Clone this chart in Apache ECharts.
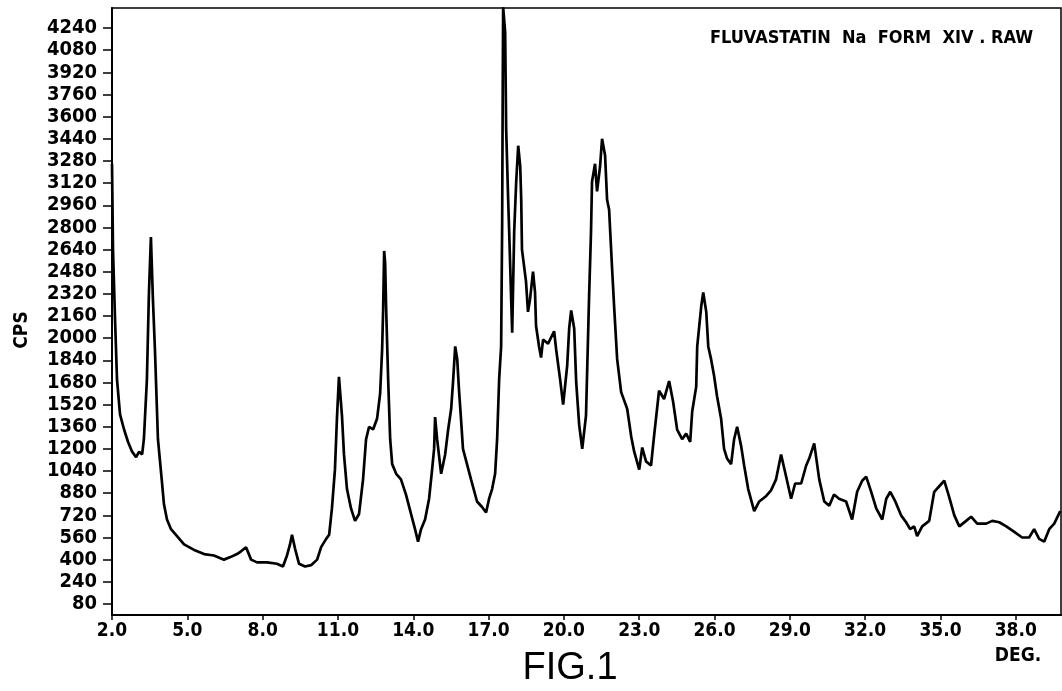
<!DOCTYPE html>
<html lang="en">
<head>
    <meta charset="UTF-8">
    <title>FIG.1</title>
    <script src="https://cdn.jsdelivr.net/npm/echarts@6/dist/echarts.min.js"></script>
    <style>
        html, body { margin: 0; padding: 0; background: #fff; }
        #main { width: 1062px; height: 691px; }
    </style>
</head>
<body>
    <div id="main"></div>

    <script>
        // 2-theta (deg) and intensity (cps)
        var deg = [
            2.00, 2.04, 2.12, 2.20, 2.32, 2.48, 2.64, 2.80, 2.96, 3.08, 3.20, 3.27, 3.39, 3.47, 3.55, 3.63, 3.71, 3.83, 3.99, 4.07,
            4.19, 4.35, 4.59, 4.87, 5.27, 5.67, 6.06, 6.46, 6.74, 6.98, 7.14, 7.34, 7.54, 7.78, 8.18, 8.57, 8.81, 8.97, 9.09, 9.17,
            9.29, 9.45, 9.69, 9.93, 10.17, 10.33, 10.53, 10.65, 10.76, 10.88, 10.96, 11.04, 11.16, 11.24, 11.36, 11.52, 11.68, 11.84, 12.00, 12.12,
            12.24, 12.40, 12.56, 12.68, 12.76, 12.80, 12.84, 12.88, 12.92, 13.00, 13.08, 13.16, 13.32, 13.51, 13.71, 13.91, 14.07, 14.19, 14.31, 14.47,
            14.63, 14.75, 14.83, 14.87, 14.95, 15.11, 15.27, 15.39, 15.51, 15.59, 15.67, 15.75, 15.82, 15.90, 15.98, 16.14, 16.30, 16.54, 16.74, 16.90,
            17.02, 17.14, 17.26, 17.34, 17.42, 17.50, 17.54, 17.56, 17.58, 17.66, 17.70, 17.78, 17.82, 17.90, 17.94, 18.02, 18.10, 18.18, 18.26, 18.30,
            18.33, 18.49, 18.57, 18.65, 18.77, 18.85, 18.89, 19.01, 19.09, 19.17, 19.37, 19.61, 19.69, 19.85, 19.97, 20.13, 20.21, 20.29, 20.41, 20.49,
            20.61, 20.73, 20.88, 21.00, 21.08, 21.12, 21.24, 21.32, 21.44, 21.52, 21.64, 21.72, 21.80, 21.92, 22.00, 22.12, 22.28, 22.52, 22.68, 22.80,
            23.00, 23.12, 23.27, 23.47, 23.59, 23.79, 23.99, 24.19, 24.35, 24.51, 24.71, 24.87, 25.03, 25.11, 25.27, 25.31, 25.47, 25.55, 25.67, 25.75,
            25.86, 25.98, 26.10, 26.26, 26.38, 26.50, 26.66, 26.78, 26.90, 27.06, 27.18, 27.34, 27.58, 27.78, 28.06, 28.25, 28.45, 28.65, 28.85, 29.05,
            29.21, 29.45, 29.65, 29.77, 29.97, 30.17, 30.37, 30.57, 30.76, 30.96, 31.24, 31.48, 31.68, 31.88, 32.04, 32.24, 32.44, 32.68, 32.84, 33.00,
            33.20, 33.43, 33.63, 33.79, 33.95, 34.07, 34.27, 34.55, 34.75, 34.95, 35.15, 35.35, 35.55, 35.75, 36.02, 36.22, 36.46, 36.82, 37.06, 37.34,
            37.62, 37.94, 38.25, 38.53, 38.73, 38.93, 39.13, 39.33, 39.53, 39.77
        ];
        var cps = [
            3260, 2640, 2140, 1700, 1450, 1340, 1250, 1180, 1140, 1180, 1160, 1270, 1700, 2320, 2730, 2280, 1920, 1270, 960, 800,
            690, 620, 570, 510, 470, 440, 430, 400, 420, 440, 460, 490, 400, 380, 380, 370, 350, 430, 510, 580,
            480, 370, 350, 360, 400, 490, 550, 580, 770, 1050, 1420, 1720, 1440, 1160, 910, 770, 680, 730, 980, 1270,
            1360, 1340, 1420, 1600, 1920, 2210, 2630, 2540, 2210, 1700, 1270, 1090, 1020, 980, 870, 730, 620, 530, 620, 690,
            840, 1050, 1200, 1430, 1270, 1020, 1160, 1340, 1490, 1700, 1940, 1850, 1630, 1420, 1200, 1090, 980, 820, 780, 740,
            840, 910, 1020, 1270, 1700, 1940, 2810, 3650, 4390, 4210, 3510, 3000, 2770, 2280, 2040, 2770, 3130, 3390, 3240, 3000,
            2640, 2410, 2190, 2280, 2480, 2330, 2090, 1940, 1860, 1990, 1960, 2050, 1920, 1700, 1520, 1800, 2070, 2200, 2070, 1680,
            1370, 1200, 1440, 2280, 2770, 3130, 3260, 3060, 3240, 3440, 3320, 3000, 2930, 2500, 2230, 1850, 1610, 1490, 1290, 1180,
            1050, 1210, 1110, 1080, 1290, 1620, 1560, 1690, 1540, 1340, 1270, 1310, 1250, 1470, 1650, 1940, 2230, 2330, 2190, 1940,
            1850, 1730, 1580, 1420, 1200, 1130, 1090, 1270, 1360, 1220, 1080, 910, 750, 820, 860, 900, 980, 1160, 1000, 840,
            950, 950, 1080, 1130, 1240, 980, 820, 790, 870, 840, 820, 690, 890, 970, 1000, 890, 770, 690, 840, 890,
            820, 720, 670, 620, 640, 570, 640, 680, 890, 930, 970, 850, 720, 640, 680, 710, 660, 660, 680, 670,
            640, 600, 560, 560, 620, 550, 530, 620, 660, 750
        ];
        var xTicks = [2, 5, 8, 11, 14, 17, 20, 23, 26, 29, 32, 35, 38];
        var yTicks = [80, 240, 400, 560, 720, 880, 1040, 1200, 1360, 1520, 1680, 1840, 2000, 2160, 2320,
            2480, 2640, 2800, 2960, 3120, 3280, 3440, 3600, 3760, 3920, 4080, 4240];

        var points = deg.map(function (d, i) { return [d, cps[i]]; });

        var font = '"DejaVu Sans Condensed", "DejaVu Sans"';
        var chart = echarts.init(document.getElementById('main'));
        var option = {
            animation: false,
            backgroundColor: '#fff',
            grid: {
                left: 112, right: 1, top: 8, bottom: 76,
                show: true, borderColor: '#000', borderWidth: 1.5
            },
            xAxis: {
                type: 'value',
                min: 2, max: 39.8,
                splitLine: { show: false },
                axisLine: { lineStyle: { color: '#000', width: 2 } },
                axisTick: { customValues: xTicks, length: 5, lineStyle: { color: '#000', width: 1.5 } },
                axisLabel: {
                    customValues: xTicks, margin: 7, color: '#000',
                    fontFamily: font, fontSize: 19, fontWeight: 'bold',
                    formatter: function (v) { return v.toFixed(1); }
                }
            },
            yAxis: {
                type: 'value',
                min: 0, max: 4385,
                splitLine: { show: false },
                axisLine: { lineStyle: { color: '#000', width: 2 } },
                axisTick: { customValues: yTicks, length: 9, lineStyle: { color: '#000', width: 1.5 } },
                axisLabel: {
                    customValues: yTicks, margin: 15, color: '#000',
                    fontFamily: font, fontSize: 20, fontWeight: 'bold',
                    formatter: function (v) { return String(v); }
                }
            },
            graphic: [
                { type: 'text', x: 1033, y: 38, style: { text: 'FLUVASTATIN  Na  FORM  XIV . RAW', fill: '#000',
                    font: 'bold 18px "DejaVu Sans Condensed", "DejaVu Sans"', textAlign: 'right', textVerticalAlign: 'middle' } },
                { type: 'text', x: 22, y: 330, rotation: Math.PI / 2, style: { text: 'CPS', fill: '#000',
                    font: 'bold 19px "DejaVu Sans Condensed", "DejaVu Sans"', textAlign: 'center', textVerticalAlign: 'middle' } },
                { type: 'text', x: 1018, y: 656, style: { text: 'DEG.', fill: '#000',
                    font: 'bold 19px "DejaVu Sans Condensed", "DejaVu Sans"', textAlign: 'center', textVerticalAlign: 'middle' } },
                { type: 'text', x: 570, y: 669, style: { text: 'FIG.1', fill: '#000',
                    font: '38px "Liberation Sans"', textAlign: 'center', textVerticalAlign: 'middle' } }
            ],
            series: [{
                type: 'line',
                data: points,
                showSymbol: false,
                clip: true,
                lineStyle: { color: '#000', width: 2.7 }
            }]
        };
        chart.setOption(option);
    </script>
</body>
</html>
